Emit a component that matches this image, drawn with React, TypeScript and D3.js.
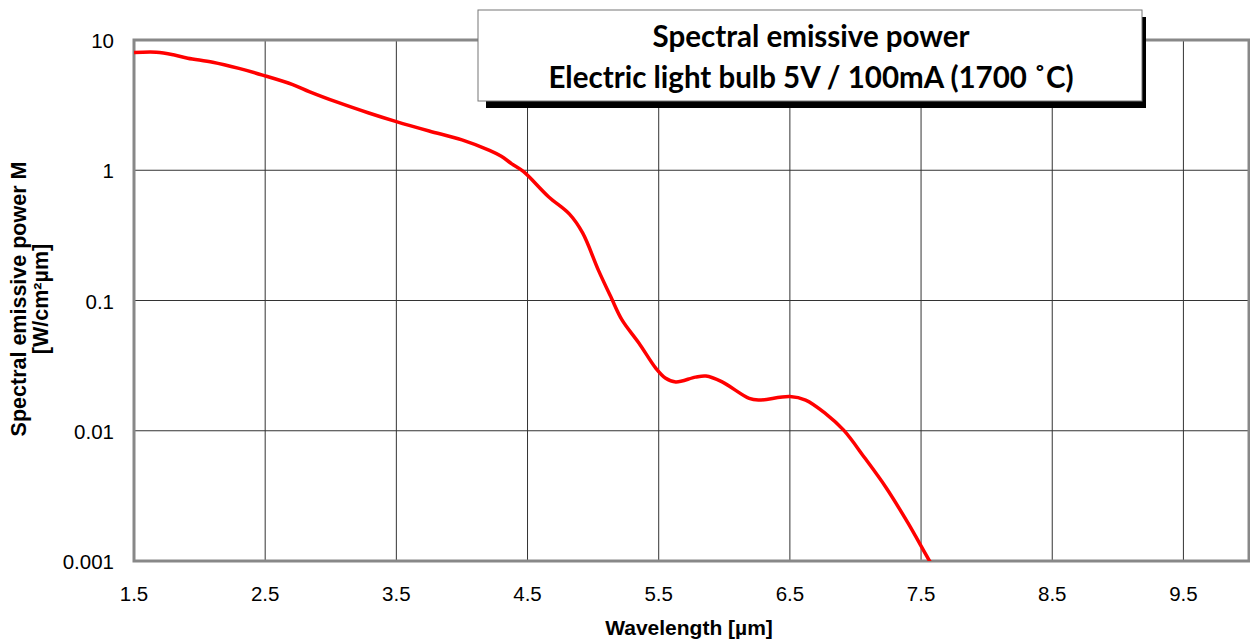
import React from "react";
import * as d3 from "d3";

const wavelength = [1.5, 1.67, 1.8, 1.91, 2.1, 2.3, 2.48, 2.71, 2.84, 3.06, 3.29, 3.5, 3.75, 4.0, 4.21, 4.3, 4.38, 4.47, 4.66, 4.82, 4.92, 5.04, 5.14, 5.22, 5.35, 5.48, 5.55, 5.63, 5.78, 5.86, 5.98, 6.19, 6.26, 6.5, 6.62, 6.77, 6.91, 7.07, 7.23, 7.4, 7.56, 7.6];
const power = [8.0, 8.05, 7.7, 7.25, 6.75, 6.05, 5.38, 4.55, 4.0, 3.3, 2.75, 2.36, 2.0, 1.71, 1.42, 1.28, 1.12, 0.975, 0.626, 0.46, 0.33, 0.171, 0.104, 0.071, 0.047, 0.030, 0.0254, 0.0237, 0.0258, 0.0263, 0.0238, 0.0177, 0.0172, 0.0183, 0.0172, 0.0136, 0.0101, 0.0062, 0.0037, 0.00196, 0.00102, 0.00088];

const xTicks = [1.5, 2.5, 3.5, 4.5, 5.5, 6.5, 7.5, 8.5, 9.5];
const yTicks = [10, 1, 0.1, 0.01, 0.001];
const yTickLabels = ["10", "1", "0.1", "0.01", "0.001"];

const titleLines = ["Spectral emissive power", "Electric light bulb 5V / 100mA (1700 \u02DAC)"];
const xLabel = "Wavelength [\u00B5m]";
const yLabelLines = ["Spectral emissive power M", "[W/cm\u00B2\u00B5m]"];

export default function App() {
  const W = 1250, H = 640;
  const L = 134, R = 1249, T = 40, B = 561;
  const x = d3.scaleLinear().domain([1.5, 10]).range([L, R]);
  const y = d3.scaleLog().domain([0.001, 10]).range([B, T]);
  const pts = wavelength.map((w, i) => [w, power[i]] as [number, number]);
  const line = d3.line<[number, number]>()
    .x(d => x(d[0]))
    .y(d => y(d[1]))
    .curve(d3.curveCatmullRom.alpha(0.5));

  const box = { x: 478, y: 10, w: 664, h: 91 };
  const font = "'Liberation Sans', Arial, sans-serif";
  const tfont = "Lato, 'Open Sans', sans-serif";
  return (
    <svg width={W} height={H} style={{ position: "absolute", left: 0, top: 0, background: "#fff" }}>
      <defs>
        <clipPath id="plot">
          <rect x={L} y={T} width={R - L} height={B - T} />
        </clipPath>
      </defs>
      {xTicks.slice(1).map(t => (
        <line key={"gx" + t} x1={x(t)} x2={x(t)} y1={T} y2={B} stroke="#333" strokeWidth={1} />
      ))}
      {yTicks.slice(1, 4).map(t => (
        <line key={"gy" + t} x1={L} x2={R} y1={y(t)} y2={y(t)} stroke="#333" strokeWidth={1} />
      ))}
      <rect x={L} y={T} width={R - L} height={B - T} fill="none" stroke="#888" strokeWidth={3} />
      <path d={line(pts) || ""} fill="none" stroke="#ff0000" strokeWidth={3.5} clipPath="url(#plot)" strokeLinejoin="round" />
      {xTicks.map(t => (
        <text key={"tx" + t} x={x(t)} y={601} textAnchor="middle" fontFamily={font} fontSize={20.5} fill="#000">{t.toFixed(1)}</text>
      ))}
      {yTicks.map((t, i) => (
        <text key={"ty" + t} x={114} y={y(t) + 8} textAnchor="end" fontFamily={font} fontSize={20.5} fill="#000">{yTickLabels[i]}</text>
      ))}
      <text x={689} y={635} textAnchor="middle" fontFamily={font} fontSize={21} fontWeight="bold" fill="#000">{xLabel}</text>
      <g transform="translate(0,299) rotate(-90)">
        <text x={0} y={26} textAnchor="middle" fontFamily={font} fontSize={21.5} fontWeight="bold" fill="#000">{yLabelLines[0]}</text>
        <text x={0} y={48} textAnchor="middle" fontFamily={font} fontSize={21.5} fontWeight="bold" fill="#000">{yLabelLines[1]}</text>
      </g>
      <rect x={box.x + 8} y={box.y + 7} width={box.w - 4} height={box.h} fill="#000" />
      <rect x={box.x} y={box.y} width={box.w} height={box.h} fill="#fff" stroke="#777" strokeWidth={1} />
      <text x={box.x + box.w / 2 + 1} y={47} textAnchor="middle" fontFamily={tfont} fontSize={29.5} fontWeight="bold" fill="#000">{titleLines[0]}</text>
      <text x={box.x + box.w / 2 + 1} y={88} textAnchor="middle" fontFamily={tfont} fontSize={29.5} fontWeight="bold" fill="#000">{titleLines[1]}</text>
    </svg>
  );
}
